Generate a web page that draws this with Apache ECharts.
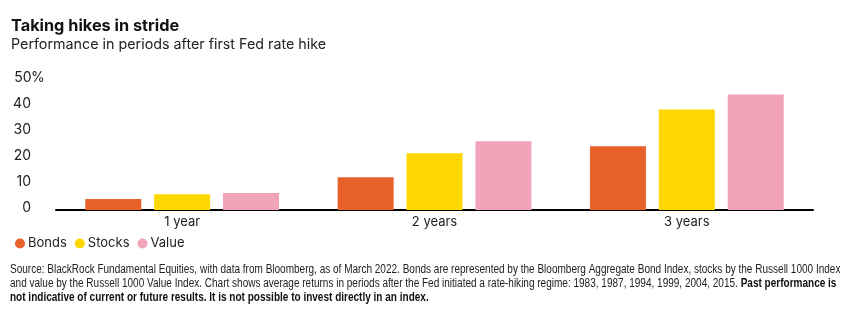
<!DOCTYPE html>
<html><head><meta charset="utf-8">
<script src="https://cdn.jsdelivr.net/npm/echarts@6/dist/echarts.min.js"></script>
<style>html,body{margin:0;padding:0;background:#fff}#c{width:857px;height:324px}</style>
</head><body><div id="c"></div>
<script>
const categories = ['1 year', '2 years', '3 years'];
const bonds = [4.2, 12.6, 24.5];
const stocks = [6.1, 21.8, 38.7];
const value = [6.5, 26.4, 44.4];
const seriesNames = ['Bonds', 'Stocks', 'Value'];
const colors = ['#E8612B', '#FFD700', '#F1A3BA'];
const FONT = 'Inter, "Open Sans", sans-serif';
const NOTE = '"Liberation Sans", Arial, sans-serif';
const SX = 0.835;

const chart = echarts.init(document.getElementById('c'), null, {renderer: 'canvas'});
const mk = (name, data, i) => ({
  name, type: 'bar', data, barWidth: 56, barGap: '23%',
  itemStyle: {color: colors[i]}, emphasis: {disabled: true}
});
chart.setOption({
  animation: false,
  textStyle: {fontFamily: FONT},
  title: [
    {text: 'Taking hikes in stride', left: 11, top: 18, padding: 0,
     textStyle: {fontFamily: FONT, fontSize: 16.3, fontWeight: 'bold', color: '#111'}},
    {text: 'Performance in periods after first Fed rate hike', left: 11, top: 38, padding: 0,
     textStyle: {fontFamily: FONT, fontSize: 14.3, fontWeight: 'normal', color: '#222'}}
  ],
  legend: {
    left: 10, top: 232, icon: 'circle', itemWidth: 10, itemHeight: 10, itemGap: 8,
    textStyle: {fontFamily: FONT, fontSize: 13, color: '#222', padding: [0, 0, 0, -2]},
    data: seriesNames
  },
  grid: {left: 56, right: 44, top: 80, height: 130},
  xAxis: {
    type: 'category', data: categories,
    axisLine: {lineStyle: {color: '#000', width: 2}},
    axisTick: {show: false},
    axisLabel: {fontFamily: FONT, fontSize: 13, color: '#222', margin: 6}
  },
  yAxis: {
    type: 'value', min: 0, max: 50, interval: 10,
    splitLine: {show: false},
    axisLabel: {
      align: 'left', margin: 41, verticalAlign: 'middle', lineHeight: 16, padding: [0, 0, 5, 0],
      formatter: v => v === 50 ? '{n|50}{p|%}' : '{n|' + v + '}',
      rich: {
        n: {width: 16, align: 'right', fontFamily: FONT, fontSize: 14, color: '#222'},
        p: {fontFamily: FONT, fontSize: 14, color: '#222'}
      }
    }
  },
  series: [mk(seriesNames[0], bonds, 0), mk(seriesNames[1], stocks, 1), mk(seriesNames[2], value, 2)],
  graphic: [
    {type: 'text', x: 10, y: 264, scaleX: SX, style: {
      text: 'Source: BlackRock Fundamental Equities, with data from Bloomberg, as of March 2022. Bonds are represented by the Bloomberg Aggregate Bond Index, stocks by the Russell 1000 Index',
      font: '12px ' + NOTE, fill: '#222'}},
    {type: 'text', x: 10, y: 278, scaleX: SX, style: {
      text: 'and value by the Russell 1000 Value Index. Chart shows average returns in periods after the Fed initiated a rate-hiking regime: 1983, 1987, 1994, 1999, 2004, 2015. {b|Past performance is}',
      font: '12px ' + NOTE, fill: '#222',
      rich: {b: {fontWeight: 'bold', fontFamily: NOTE, fontSize: 12, fill: '#111'}}}},
    {type: 'text', x: 10, y: 292, scaleX: SX, style: {
      text: 'not indicative of current or future results. It is not possible to invest directly in an index.',
      font: 'bold 12px ' + NOTE, fill: '#111'}}
  ]
});
</script></body></html>
